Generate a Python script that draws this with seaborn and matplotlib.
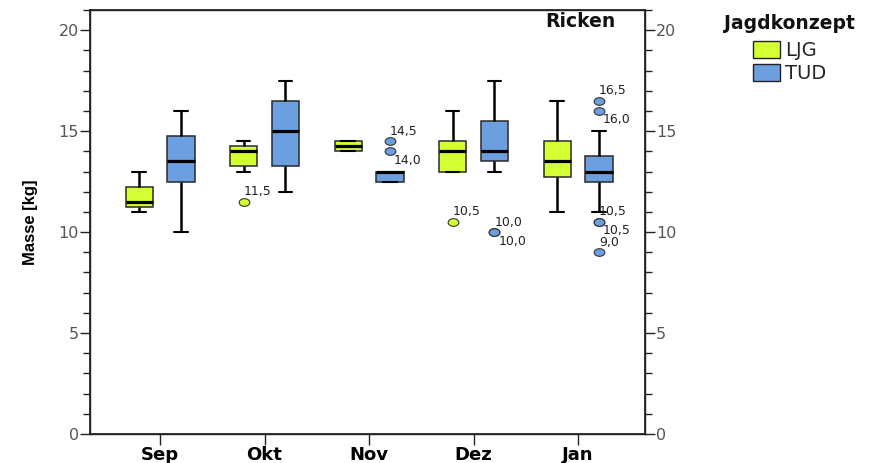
import pandas as pd
import seaborn as sns
import matplotlib
matplotlib.use("Agg")
import matplotlib.pyplot as plt
from matplotlib.markers import MarkerStyle
from matplotlib.transforms import Affine2D
from matplotlib.ticker import MultipleLocator

# Body mass of animals per month and hunting concept (Ricken)
months = ["Sep", "Okt", "Nov", "Dez", "Jan"]
groups = ["LJG", "TUD"]
palette = {"LJG": "#d4ff33", "TUD": "#6b9fe0"}

sep_ljg = [11.0, 11.25, 11.5, 12.25, 13.0]
sep_tud = [10.0, 12.5, 13.5, 14.75, 16.0]
okt_ljg = [11.5, 13.0, 13.25, 13.5, 14.0, 14.0, 14.25, 14.5, 14.5]
okt_tud = [12.0, 13.25, 15.0, 16.5, 17.5]
nov_ljg = [14.0, 14.0, 14.25, 14.5, 14.5]
nov_tud = [12.5, 12.5, 12.5, 12.75, 13.0, 13.0, 13.0, 14.0, 14.5]
dez_ljg = [10.5, 13.0, 13.0, 13.5, 14.0, 14.25, 14.5, 15.0, 16.0]
dez_tud = [10.0, 10.0, 13.0, 13.5, 13.5, 14.0, 14.0, 14.5, 15.0, 15.5,
           16.0, 17.0, 17.5]
jan_ljg = [11.0, 12.75, 13.5, 14.5, 16.5]
jan_tud = [9.0, 10.5, 10.5, 11.0, 12.5, 12.5, 13.0, 13.0, 13.0, 13.5,
           13.5, 13.75, 13.75, 14.5, 15.0, 16.0, 16.5]

series = [
    ("Sep", "LJG", sep_ljg), ("Sep", "TUD", sep_tud),
    ("Okt", "LJG", okt_ljg), ("Okt", "TUD", okt_tud),
    ("Nov", "LJG", nov_ljg), ("Nov", "TUD", nov_tud),
    ("Dez", "LJG", dez_ljg), ("Dez", "TUD", dez_tud),
    ("Jan", "LJG", jan_ljg), ("Jan", "TUD", jan_tud),
]
rows = [(m, g, v) for m, g, vals in series for v in vals]
df = pd.DataFrame(rows, columns=["Monat", "Jagdkonzept", "Masse"])

sns.set_theme(style="ticks")
plt.rcParams["font.family"] = ["DejaVu Sans"]

fig = plt.figure(figsize=(8.92, 4.63), dpi=100)
fig.patch.set_facecolor("white")
ax = fig.add_axes([90 / 892, 1 - 434 / 463, 555 / 892, 424 / 463])

sns.boxplot(
    data=df, x="Monat", y="Masse", hue="Jagdkonzept",
    order=months, hue_order=groups, palette=palette, saturation=1,
    width=0.8, gap=0.35, whis=1.5, linewidth=1.1, linecolor="#2a2a2a",
    medianprops=dict(color="black", linewidth=2.3),
    whiskerprops=dict(color="black", linewidth=1.8),
    capprops=dict(color="black", linewidth=1.5),
    flierprops=dict(marker="o", markersize=6, markeredgecolor="#333333",
                    markeredgewidth=0.8),
    ax=ax,
)

# Colour the outliers by group and label them with their value
oval = MarkerStyle("o", transform=Affine2D().scale(1.4, 1.0))
for ln in ax.lines:
    if ln.get_marker() in (None, "None", "", " "):
        continue
    xs = list(ln.get_xdata())
    ys = list(ln.get_ydata())
    if not ys:
        continue
    grp = "LJG" if xs[0] - round(xs[0]) < 0 else "TUD"
    ln.set_marker(oval)
    ln.set_markerfacecolor(palette[grp])
    ln.set_markeredgecolor("#333333")
    ln.set_markersize(5.5)
    pts = sorted(zip(xs, ys), key=lambda p: -p[1])
    for i, (x, y) in enumerate(pts):
        txt = f"{y:.1f}".replace(".", ",")
        off = (0, 10) if i % 2 == 0 else (4, -9)
        ax.annotate(txt, xy=(x, y), xytext=off, textcoords="offset pixels",
                    ha="left", va="center", fontsize=9, color="#222222")

ax.set_xlim(-0.67, 4.64)
ax.set_ylim(0, 21)
ax.yaxis.set_major_locator(MultipleLocator(5))
ax.yaxis.set_minor_locator(MultipleLocator(1))
ax.set_xlabel("")
ax.set_ylabel("Masse [kg]", fontsize=12, fontweight="bold", color="black",
              family=["Liberation Sans", "DejaVu Sans"])
ax.yaxis.set_label_coords(-0.093, 0.5)

for side in ["left", "right", "top", "bottom"]:
    ax.spines[side].set_visible(True)
    ax.spines[side].set_color("#222222")
    ax.spines[side].set_linewidth(1.0)

ax.tick_params(axis="x", which="major", length=8, width=1, color="#222222",
               pad=1, labelsize=13)
for lbl in ax.get_xticklabels():
    lbl.set_fontweight("bold")
    lbl.set_color("black")
ax.tick_params(axis="y", which="major", length=7, width=1, color="#222222",
               pad=1, labelsize=11.5, labelcolor="#555555")
ax.tick_params(axis="y", which="minor", length=5, width=1, color="#222222")

ax2 = ax.twinx()
ax2.set_ylim(0, 21)
ax2.yaxis.set_major_locator(MultipleLocator(5))
ax2.yaxis.set_minor_locator(MultipleLocator(1))
ax2.tick_params(axis="y", which="major", length=7, width=1, color="#222222",
                pad=1, labelsize=11.5, labelcolor="#555555")
ax2.tick_params(axis="y", which="minor", length=5, width=1, color="#222222")
for side in ["left", "right", "top", "bottom"]:
    ax2.spines[side].set_color("#222222")

ax.text(0.946, 0.972, "Ricken", transform=ax.transAxes, ha="right",
        va="center", fontsize=13.5, fontweight="bold", color="#111111")

handles, labels = ax.get_legend_handles_labels()
if ax.get_legend() is not None:
    ax.get_legend().remove()
leg = fig.legend(
    handles, labels, title="Jagdkonzept", loc="upper left",
    bbox_to_anchor=(716 / 892, 1 - 6 / 463), frameon=False,
    fontsize=14, handlelength=1.4, handleheight=0.95, handletextpad=0.25,
    labelspacing=0.2, borderaxespad=0.0,
    title_fontproperties={"weight": "bold", "size": 13.5},
)
leg.get_title().set_color("#111111")
leg._legend_box.sep = 6
for h in leg.legend_handles:
    h.set_edgecolor("#222222")
    h.set_linewidth(1.0)

fig.savefig("out.png", dpi=100, facecolor="white")
